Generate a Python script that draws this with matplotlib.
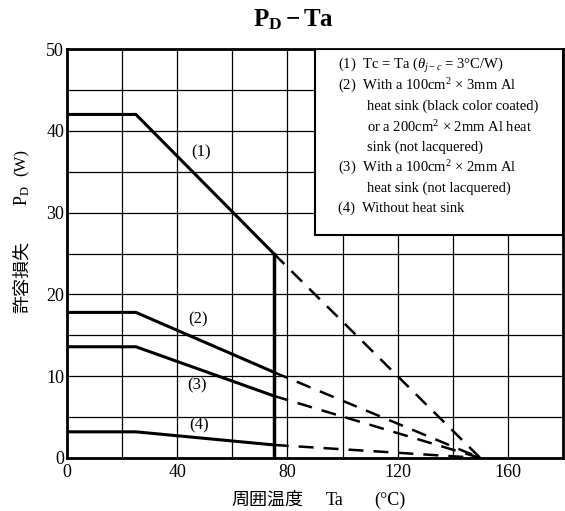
import matplotlib
matplotlib.use("Agg")
import matplotlib.pyplot as plt
from matplotlib.patches import Rectangle
from matplotlib.ticker import MultipleLocator

plt.rcParams['font.family'] = ['Liberation Serif', 'Noto Sans CJK JP']
plt.rcParams['mathtext.fontset'] = 'custom'
plt.rcParams['mathtext.rm'] = 'Liberation Serif'
plt.rcParams['mathtext.it'] = 'Liberation Serif:italic'
plt.rcParams['mathtext.bf'] = 'Liberation Serif:bold'

# ambient temperature break points (deg C)
ta_solid = [0, 25, 75]
ta_dash = [75, 150]
# allowable power dissipation PD (W) for each mounting condition
pd_1 = [42, 42, 25]
pd_2 = [17.8, 17.8, 10.5]
pd_3 = [13.6, 13.6, 7.6]
pd_4 = [3.2, 3.2, 1.6]
curves = [pd_1, pd_2, pd_3, pd_4]
curve_labels = ['(1)', '(2)', '(3)', '(4)']
label_pos = [(48.5, 37.3), (47.5, 17.0), (47.3, 8.9), (48, 4.0)]

legend_lines = [
    (0, r'(1)  Tc = Ta ($\theta_{j-c}$ = 3°C/W)'),
    (0, '(2)  With a 100cm$^2$ × 3mm Al'),
    (1, 'heat sink (black color coated)'),
    (1, 'or a 200cm$^2$ × 2mm Al heat'),
    (1, 'sink (not lacquered)'),
    (0, '(3)  With a 100cm$^2$ × 2mm Al'),
    (1, 'heat sink (not lacquered)'),
    (0, '(4)  Without heat sink'),
]

fig = plt.figure(figsize=(5.65, 5.11), dpi=100)
ax = fig.add_axes([67/565, 1-458/511, (563-67)/565, (458-49)/511])
ax.set_xlim(0, 180)
ax.set_ylim(0, 50)

ax.xaxis.set_major_locator(MultipleLocator(40))
ax.xaxis.set_minor_locator(MultipleLocator(20))
ax.yaxis.set_major_locator(MultipleLocator(10))
ax.yaxis.set_minor_locator(MultipleLocator(5))
ax.grid(True, which='both', color='black', lw=0.9)
ax.set_axisbelow(True)
ax.tick_params(which='both', length=0, labelsize=13)
ax.tick_params(axis='x', pad=4)
ax.tick_params(axis='y', pad=2)
for s in ax.spines.values():
    s.set_linewidth(2)

for pd in curves:
    ax.plot(ta_solid, pd, color='black', lw=2.2, solid_capstyle='butt', zorder=3)
    ax.plot(ta_dash, [pd[-1], 0], color='black', lw=1.8, dashes=(6, 4), zorder=3)

# thick vertical at Ta = 75
ax.plot([75, 75], [0, pd_1[-1]], color='black', lw=2.5, zorder=3)

for txt, (x, y) in zip(curve_labels, label_pos):
    ax.text(x, y, txt, fontsize=12, ha='center', va='center', zorder=4)

ax.add_patch(Rectangle((90, 27.3), 90, 22.7, facecolor='white', edgecolor='black',
                       lw=1.5, zorder=5))
y0 = 48.0
for i, (indent, txt) in enumerate(legend_lines):
    ax.text(98.5 + indent * 10.5, y0 - i * 2.5, txt, fontsize=10.5, ha='left',
            va='center', zorder=6)

fig.text(293/565, 1-20/511, r'$\mathbf{P_D - Ta}$', fontsize=18, ha='center', va='center')

# y label: 許容損失  PD  (W)
fig.text(22/565, 1-277/511, '許容損失', fontsize=13, rotation=90, ha='center', va='center')
fig.text(22/565, 1-196/511, r'P$_\mathrm{D}$', fontsize=13, rotation=90, ha='center', va='center')
fig.text(22/565, 1-162/511, '(W)', fontsize=12, rotation=90, ha='center', va='center')

# x label: 周囲温度  Ta (°C)
fig.text(267/565, 1-505/511, '周囲温度', fontsize=13, ha='center', va='baseline')
fig.text(335/565, 1-505/511, 'Ta', fontsize=13, ha='center', va='baseline')
fig.text(390/565, 1-505/511, '(°C)', fontsize=13, ha='center', va='baseline')

fig.savefig('out.png', dpi=100)
